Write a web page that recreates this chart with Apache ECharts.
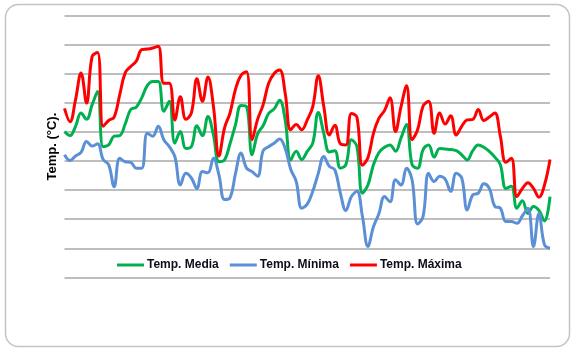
<!DOCTYPE html>
<html>
<head>
<meta charset="utf-8">
<script src="https://cdn.jsdelivr.net/npm/echarts@6/dist/echarts.min.js"></script>
<style>
  html, body { margin: 0; padding: 0; background: #fff; }
  #chart { width: 574px; height: 352px; }
</style>
</head>
<body>
<div id="chart"></div>
<script>
// Daily readings (°C)
const days = Array.from({ length: 89 }, (_, i) => String(i + 1))

const tempMedia = [
  20.1, 19.4, 21.0, 23.3, 22.2, 24.7, 27.0, 17.5, 17.8, 19.3,
  19.4, 21.4, 23.9, 24.3, 25.9, 28.0, 28.7, 28.7, 23.6, 25.3,
  18.1, 20.1, 17.2, 17.5, 21.1, 19.4, 22.7, 19.5, 14.9, 15.2,
  18.0, 21.3, 24.6, 24.4, 16.1, 19.7, 21.1, 23.2, 24.0, 25.5,
  22.1, 15.2, 16.7, 15.3, 16.7, 18.1, 23.4, 19.8, 16.6, 16.8,
  13.8, 14.4, 18.7, 17.5, 9.5, 10.9, 14.4, 16.5, 17.4, 17.8,
  16.7, 19.0, 21.3, 14.4, 13.8, 17.0, 17.8, 15.7, 17.2, 17.1,
  17.0, 16.8, 16.1, 15.2, 16.8, 17.8, 17.4, 16.7, 15.7, 14.4,
  10.3, 10.7, 6.9, 8.2, 6.0, 7.2, 6.5, 4.7, 8.9
]

const tempMinima = [
  16.1, 15.1, 15.9, 16.5, 18.4, 17.6, 18.0, 15.3, 14.4, 10.6,
  15.5, 14.9, 14.8, 13.8, 13.8, 19.8, 19.3, 21.0, 18.7, 17.5,
  15.8, 10.9, 12.9, 12.1, 10.3, 13.2, 13.0, 15.5, 12.6, 8.4,
  8.7, 12.9, 16.4, 13.8, 13.2, 12.4, 16.8, 17.5, 18.1, 18.8,
  17.2, 13.6, 11.5, 6.9, 7.6, 9.8, 12.9, 15.8, 14.1, 13.5,
  9.5, 6.5, 8.9, 9.8, 5.5, 0.3, 3.7, 6.0, 8.9, 8.0,
  11.8, 10.9, 13.8, 11.8, 4.2, 5.5, 12.9, 11.5, 12.4, 11.9,
  9.8, 12.9, 12.1, 6.6, 9.2, 9.5, 11.1, 10.3, 7.2, 6.9,
  4.6, 4.6, 4.3, 5.6, 6.9, 0.3, 6.0, 0.6, 0.0
]

const tempMaxima = [
  24.1, 21.8, 25.6, 30.2, 25.0, 33.0, 33.7, 21.0, 22.0, 22.6,
  26.4, 30.2, 31.3, 32.2, 34.2, 34.3, 34.5, 34.8, 28.4, 28.4,
  22.1, 26.1, 22.2, 23.3, 29.2, 25.3, 29.5, 24.4, 15.9, 20.7,
  23.3, 27.4, 29.8, 30.4, 18.7, 22.2, 24.7, 28.4, 30.1, 30.7,
  26.7, 20.4, 21.3, 20.4, 22.1, 24.4, 29.7, 24.4, 19.5, 21.2,
  18.0, 17.8, 23.2, 22.6, 14.3, 15.6, 19.8, 22.4, 23.7, 25.9,
  20.1, 24.4, 28.0, 18.7, 20.4, 24.5, 25.3, 19.8, 23.3, 21.4,
  22.8, 19.5, 21.0, 22.1, 22.2, 23.9, 22.0, 22.6, 23.3, 19.3,
  14.8, 15.5, 8.9, 10.3, 11.3, 10.3, 8.8, 10.9, 15.3
]

const chart = echarts.init(document.getElementById('chart'))

const lineSeries = (name, data, color) => ({
  name,
  type: 'line',
  data,
  smooth: 0.4,
  symbol: 'none',
  lineStyle: { color, width: 3 },
  itemStyle: { color }
})

chart.setOption({
  animation: false,
  backgroundColor: '#fff',
  graphic: [
    {
      type: 'rect',
      shape: { x: 5.5, y: 4.5, width: 564, height: 342, r: 13 },
      style: { fill: 'none', stroke: '#c4c4c4', lineWidth: 1.5 },
      z: -1
    }
  ],
  grid: { left: 64.5, right: 24, top: 16, bottom: 74.7 },
  legend: {
    left: 112,
    top: 254,
    icon: 'rect',
    itemWidth: 27,
    itemHeight: 3,
    itemGap: 11,
    textStyle: {
      fontFamily: 'Liberation Sans, Arial, sans-serif',
      fontSize: 12,
      fontWeight: 'bold',
      color: '#0d0d1a',
      padding: [0, 0, 0, -2]
    },
    data: ['Temp. Media', 'Temp. Mínima', 'Temp. Máxima']
  },
  xAxis: {
    type: 'category',
    data: days,
    boundaryGap: false,
    axisLine: { show: false },
    axisTick: { show: false },
    axisLabel: { show: false }
  },
  yAxis: {
    type: 'value',
    min: -5,
    max: 40,
    interval: 5,
    name: 'Temp. (°C).',
    nameLocation: 'middle',
    nameGap: 6,
    nameTextStyle: {
      fontFamily: 'Liberation Sans, Arial, sans-serif',
      fontSize: 13,
      fontWeight: 'bold',
      color: '#000'
    },
    axisLine: { show: false },
    axisTick: { show: false },
    axisLabel: { show: false },
    splitLine: { lineStyle: { color: '#a8a8a8', width: 1.5 } }
  },
  series: [
    lineSeries('Temp. Media', tempMedia, '#00b050'),
    lineSeries('Temp. Mínima', tempMinima, '#5b8fd6'),
    lineSeries('Temp. Máxima', tempMaxima, '#ff0000')
  ]
})
</script>
</body>
</html>
